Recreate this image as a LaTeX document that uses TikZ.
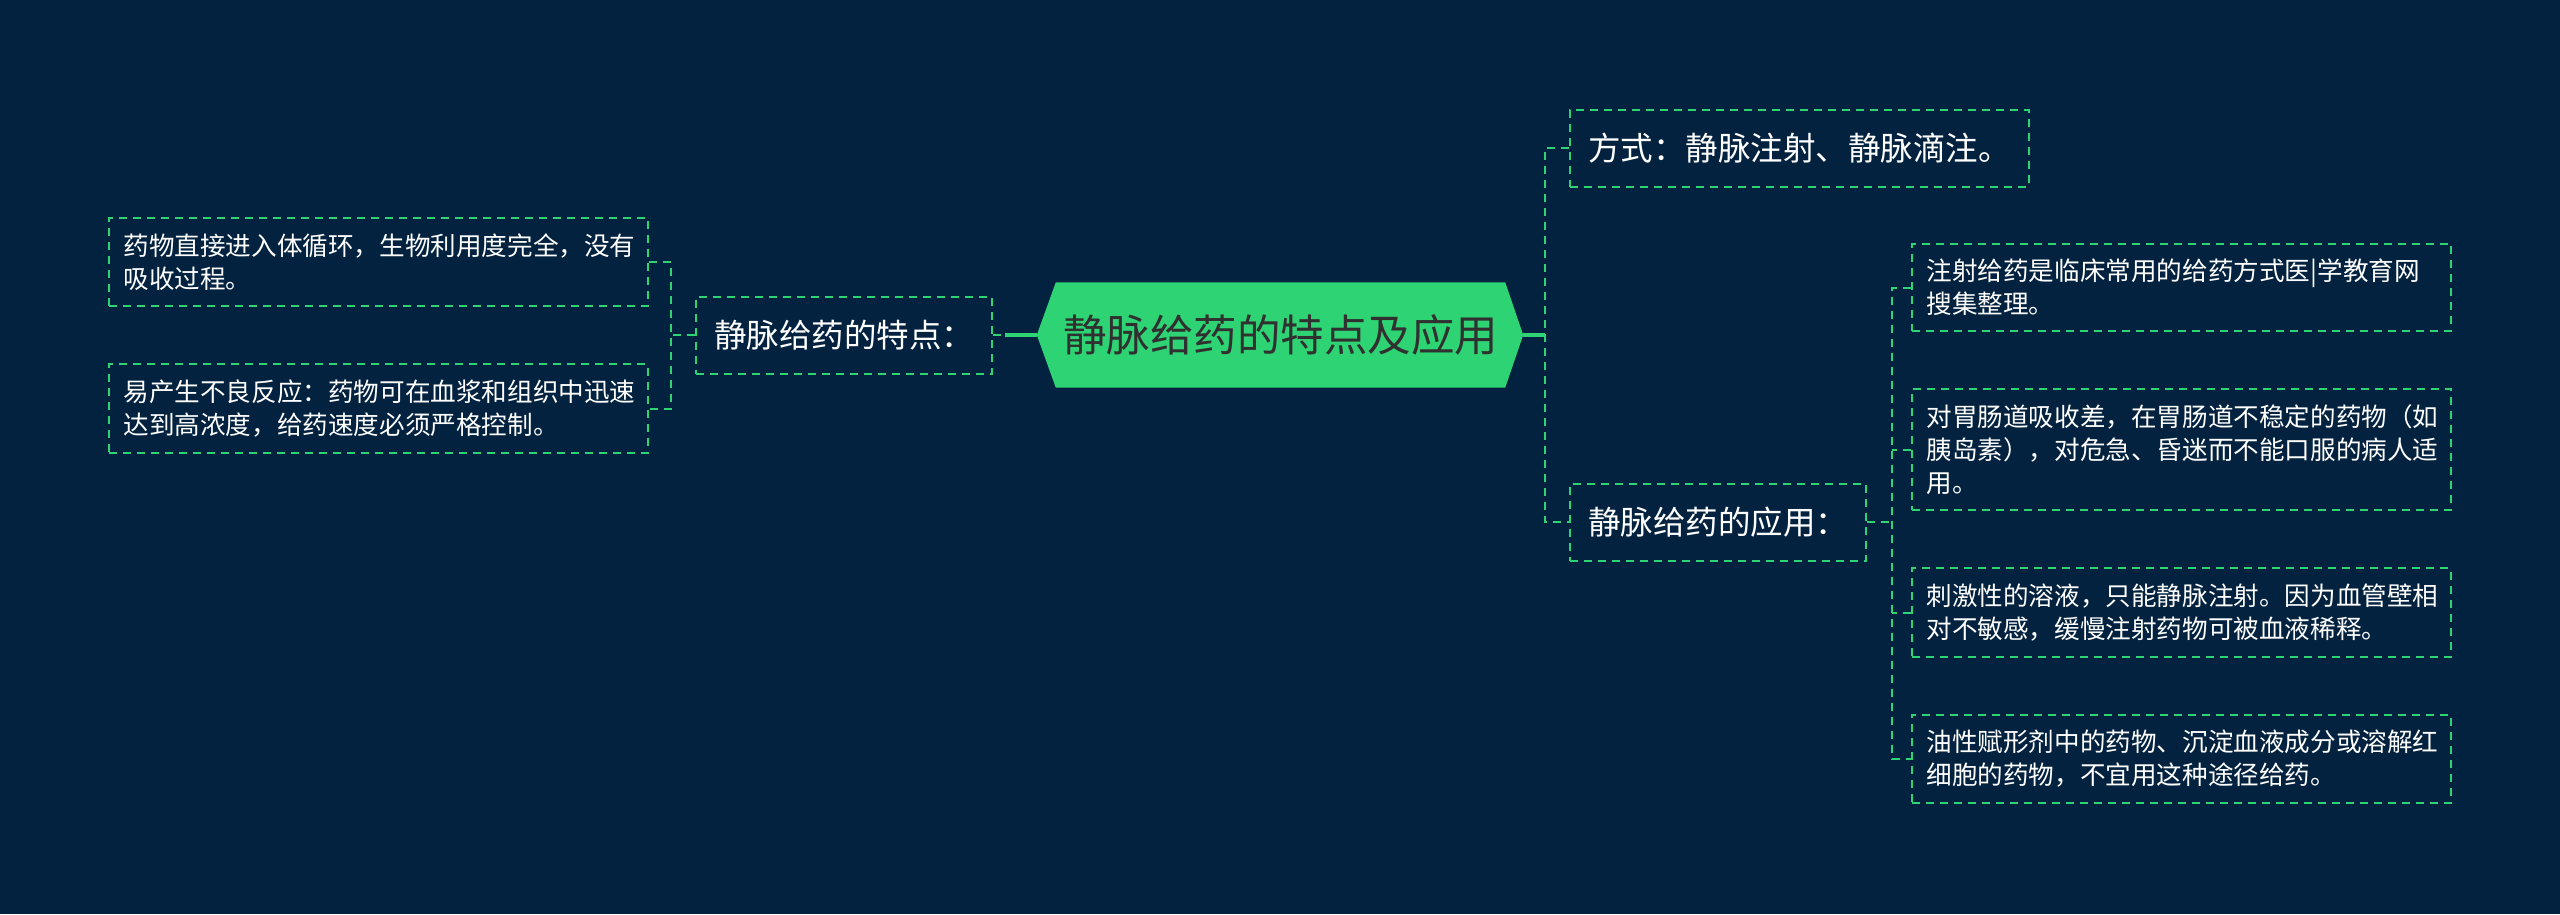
\documentclass[tikz,border=0pt]{standalone}
\usepackage{fontspec}
\setmainfont{Noto Sans CJK SC}
\usepackage{tikz}
\usetikzlibrary{calc,backgrounds}
\definecolor{navy}{RGB}{3,34,63}
\definecolor{mmgreen}{RGB}{46,211,115}
\definecolor{roottext}{RGB}{48,48,48}
\tikzset{
  rootbox/.style  ={minimum width=449pt,minimum height=105pt,inner sep=0pt,text=roottext,font=\fontsize{43.5}{50}\selectfont},
  branch/.style   ={draw=mmgreen,line width=2pt,dash pattern=on 8pt off 6pt,minimum height=77pt,inner xsep=18pt,inner ysep=0pt,text=white,font=\fontsize{32.5}{38}\selectfont},
  leaf/.style     ={draw=mmgreen,line width=2pt,dash pattern=on 8pt off 6pt,text width=510pt,align=left,inner xsep=14.5pt,inner ysep=15.5pt,text=white,font=\fontsize{25.6}{33}\selectfont},
  dashlink/.style ={mmgreen,line width=2pt,dash pattern=on 8pt off 6pt},
  solidlink/.style={mmgreen,line width=3.5pt},
}

\begin{document}
\begin{tikzpicture}[x=1pt,y=-1pt]
  \useasboundingbox (0,0) rectangle (2560,914);
  % centre
  \node[rootbox] (root) at (1280.5,335) {静脉给药的特点及应用};
  \coordinate (rootL) at ($(root.west)+(-19,0)$);
  \coordinate (rootR) at ($(root.east)+(18,0)$);
  \begin{scope}[on background layer]
    \fill[navy] (0,0) rectangle (2560,914);
    \fill[mmgreen] (root.north west) -- (root.north east) -- (rootR)
      -- (root.south east) -- (root.south west) -- (rootL) -- cycle;
  \end{scope}
  % left branch
  \node[branch,anchor=west] (tedian) at (695,335) {静脉给药的特点：};
  \node[leaf] (tedianA) at (378.5,262) {药物直接进入体循环，生物利用度完全，没有\\吸收过程。};
  \node[leaf] (tedianB) at (378.5,408.5) {易产生不良反应：药物可在血浆和组织中迅速\\达到高浓度，给药速度必须严格控制。};
  % right branches
  \node[branch,anchor=west] (fangshi) at (1569,148) {方式：静脉注射、静脉滴注。};
  \node[branch,anchor=west] (yingyong) at (1569,522) {静脉给药的应用：};
  \node[leaf] (yingyongA) at (2181.5,287.5) {注射给药是临床常用的给药方式医|学教育网\\搜集整理。};
  \node[leaf] (yingyongB) at (2181.5,449.5) {对胃肠道吸收差，在胃肠道不稳定的药物（如\\胰岛素），对危急、昏迷而不能口服的病人适\\用。};
  \node[leaf] (yingyongC) at (2181.5,612.5) {刺激性的溶液，只能静脉注射。因为血管壁相\\对不敏感，缓慢注射药物可被血液稀释。};
  \node[leaf] (yingyongD) at (2181.5,759) {油性赋形剂中的药物、沉淀血液成分或溶解红\\细胞的药物，不宜用这种途径给药。};
  % links, left
  \coordinate (ljoint) at (1005,335);
  \coordinate (lfork) at (671,335);
  \draw[solidlink] (rootL) -- (ljoint);
  \draw[dashlink] (tedian.east) -- (ljoint);
  \draw[dashlink] (tedian.west) -- (lfork);
  \draw[dashlink] (tedianA.east) -| (lfork) |- (tedianB.east);
  % links, right
  \coordinate (rfork) at (1545,335);
  \coordinate (rfork2) at ($(yingyong.east)+(25,0)$);
  \draw[solidlink] (rootR) -- (rfork);
  \draw[dashlink] (fangshi.west) -| (rfork) |- (yingyong.west);
  \draw[dashlink] (yingyong.east) -- (rfork2);
  \draw[dashlink] (yingyongA.west) -| (rfork2) |- (yingyongD.west);
  \foreach \n in {B,C}
    \draw[dashlink] (yingyong\n.west) -- (yingyong\n.west -| rfork2);
\end{tikzpicture}
\end{document}
